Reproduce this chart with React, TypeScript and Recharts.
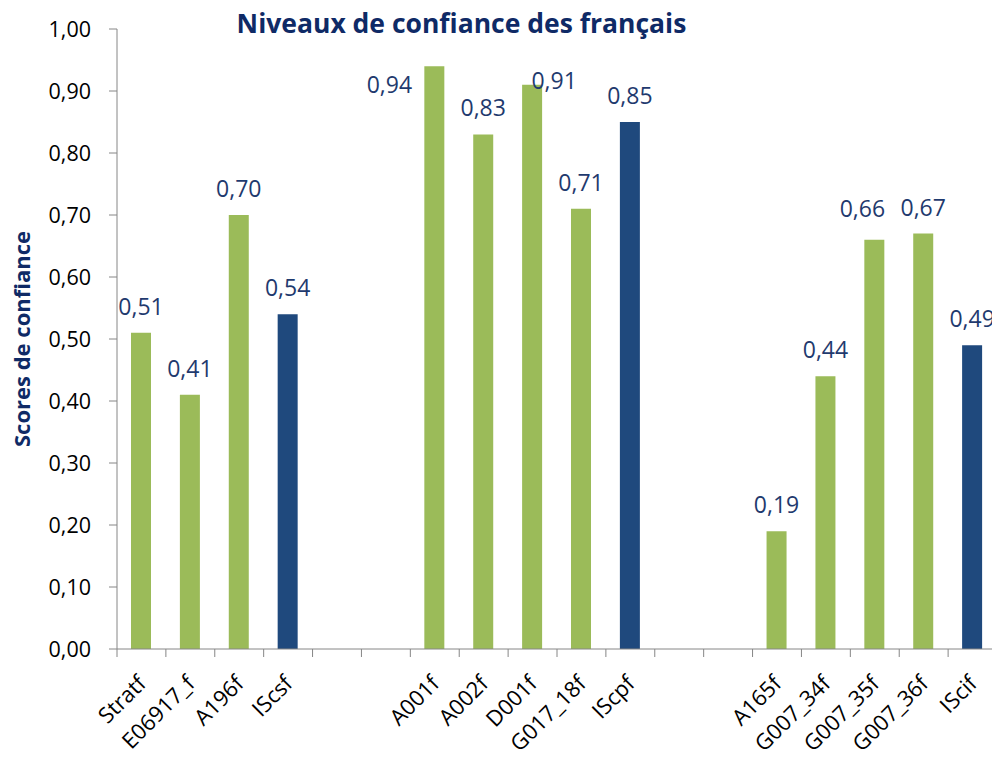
import React from 'react';
import { BarChart, Bar, XAxis, YAxis, Cell, LabelList } from 'recharts';

// ---- data ----
const categories: string[] = [
  'Stratf', 'E06917_f', 'A196f', 'IScsf', '', '',
  'A001f', 'A002f', 'D001f', 'G017_18f', 'IScpf', '', '',
  'A165f', 'G007_34f', 'G007_35f', 'G007_36f', 'IScif',
];
const scores: (number | null)[] = [
  0.51, 0.41, 0.70, 0.54, null, null,
  0.94, 0.83, 0.91, 0.71, 0.85, null, null,
  0.19, 0.44, 0.66, 0.67, 0.49,
];
const yTicks: number[] = [0, 0.1, 0.2, 0.3, 0.4, 0.5, 0.6, 0.7, 0.8, 0.9, 1.0];
const title = 'Niveaux de confiance des français';
const yLabel = 'Scores de confiance';

// manual label nudges (as in the original Excel chart)
const labelNudges: Record<string, { dx: number; dy: number }> = {
  A001f: { dx: -45, dy: 45 },
  D001f: { dx: 22, dy: 22 },
  G007_35f: { dx: -12, dy: -5 },
};

// ---- styles / layout ----
const GREEN = '#9BBB59';
const BLUE = '#1F497D';
const AXIS = '#868686';
const NAVY = '#0F2A66';
const LABEL = '#1F3A6E';
const CHART_W = 1000;
const CHART_H = 800;
const Y_AXIS_W = 117;
const MARGIN = { top: 29, right: 3, left: 0, bottom: 0 };
const X_AXIS_H = CHART_H - 649;
const HALF_BAND = (CHART_W - MARGIN.right - MARGIN.left - Y_AXIS_W) / categories.length / 2;

const rows = categories.map((name, i) => ({
  key: name || `gap${i}`,
  name,
  score: scores[i],
}));

const fmt = (v: number) => v.toFixed(2).replace('.', ',');

const CategoryTick = (props: any) => {
  const { x, y, payload } = props;
  const row = rows.find((r) => r.key === payload?.value);
  const label = row ? row.name : '';
  const ax = x + 6;
  const ay = y + 36;
  return (
    <g>
      <line x1={x - HALF_BAND} y1={y} x2={x - HALF_BAND} y2={y + 8} stroke={AXIS} strokeWidth={1} />
      {label ? (
        <text
          x={ax}
          y={ay}
          textAnchor="end"
          fontSize={22}
          fill="#000"
          transform={`rotate(-45 ${ax} ${ay})`}
        >
          {label}
        </text>
      ) : null}
    </g>
  );
};

const renderLabel = (props: any) => {
  const vb = props.viewBox ?? {};
  const x = vb.x ?? props.x;
  const y = vb.y ?? props.y;
  const w = vb.width ?? props.width;
  const value = props.value;
  if (value === null || value === undefined || x === undefined) return null;
  let idx: number = props.index;
  if (idx === undefined || rows[idx]?.score !== value) {
    idx = rows.findIndex((r) => r.score === value);
  }
  const name = rows[idx]?.name ?? '';
  const n = labelNudges[name] ?? { dx: 0, dy: 0 };
  return (
    <text
      x={x + w / 2 + n.dx}
      y={y - 18 + n.dy}
      textAnchor="middle"
      fontSize={23}
      fill={LABEL}
    >
      {fmt(Number(value))}
    </text>
  );
};

export default function App() {
  return (
    <div
      style={{
        position: 'fixed',
        left: 0,
        top: 0,
        width: 992,
        height: 758,
        overflow: 'hidden',
        background: '#fff',
        fontFamily: "'Open Sans', sans-serif",
      }}
    >
      <BarChart width={CHART_W} height={CHART_H} data={rows} margin={MARGIN}>
        <XAxis
          dataKey="key"
          type="category"
          interval={0}
          height={X_AXIS_H}
          tickSize={0}
          tickMargin={0}
          tickLine={false}
          axisLine={{ stroke: AXIS, strokeWidth: 1 }}
          tick={<CategoryTick />}
        />
        <YAxis
          domain={[0, 1]}
          ticks={yTicks}
          interval={0}
          width={Y_AXIS_W}
          tickSize={8}
          tickMargin={18}
          tickFormatter={fmt}
          axisLine={{ stroke: AXIS, strokeWidth: 1 }}
          tickLine={{ stroke: AXIS, strokeWidth: 1 }}
          tick={{ fill: '#000', fontSize: 21.5 }}
          allowDataOverflow
          label={{
            value: yLabel,
            angle: -90,
            position: 'insideLeft',
            offset: 22,
            style: { textAnchor: 'middle', fontWeight: 700, fontSize: 22, fill: NAVY },
          }}
        />
        <Bar dataKey="score" barSize={20} isAnimationActive={false}>
          {rows.map((r, i) => (
            <Cell key={`c-${i}`} fill={r.name.startsWith('IS') ? BLUE : GREEN} />
          ))}
          <LabelList dataKey="score" content={renderLabel} />
        </Bar>
      </BarChart>
      <svg
        width={992}
        height={60}
        style={{ position: 'absolute', left: 0, top: 0, pointerEvents: 'none' }}
      >
        <text x={461.5} y={33} textAnchor="middle" fontWeight={700} fontSize={26.5} fill={NAVY}>
          {title}
        </text>
      </svg>
    </div>
  );
}
